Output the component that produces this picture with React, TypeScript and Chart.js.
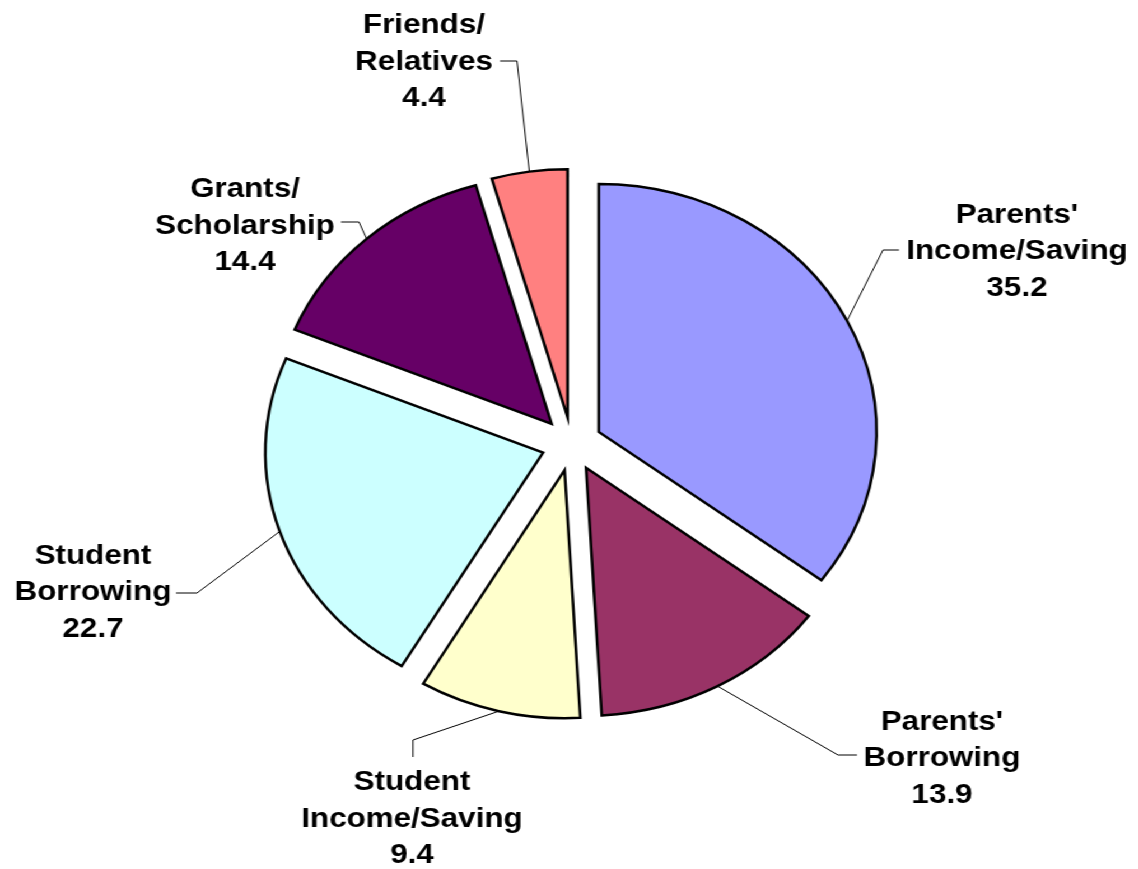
import React, { useEffect, useRef } from "react";
import { Chart, registerables } from "chart.js";

Chart.register(...registerables);

// ---- data ----
const categories: string[][] = [
  ["Parents'", "Income/Saving"],
  ["Parents'", "Borrowing"],
  ["Student", "Income/Saving"],
  ["Student", "Borrowing"],
  ["Grants/", "Scholarship"],
  ["Friends/", "Relatives"],
];
const values: number[] = [35.2, 13.9, 9.4, 22.7, 14.4, 4.4];
const sliceColors: string[] = ["#9999FF", "#993366", "#FFFFCC", "#CCFFFF", "#660066", "#FF8080"];

// ---- layout (page pixels) ----
const SX = 1.12; // horizontal stretch of the original picture
const CANVAS_W = 1016;
const CANVAS_H = 869;
const RADIUS = 248;
const EXPLODE = 27;
const LINE_GAP = 36.5;
const labelAnchors: number[][] = [
  [1017, 259],
  [942, 766],
  [412, 826.5],
  [93, 600],
  [245, 233.5],
  [424, 69.5],
];
const leaderBends: number[][][] = [
  [[883, 250], [899, 250]],
  [[838, 755], [857, 755]],
  [[413, 740], [413, 757]],
  [[197, 593], [176, 593]],
  [[359, 222], [341, 222]],
  [[517, 61], [500, 61]],
];

const explodePlugin = {
  id: "explodeSlices",
  beforeDatasetDraw(chart: any, args: any) {
    const ctx = chart.ctx;
    const meta = chart.getDatasetMeta(args.index);
    meta.data.forEach((arc: any) => {
      const p = arc.getProps(["startAngle", "endAngle"], true);
      const mid = (p.startAngle + p.endAngle) / 2;
      ctx.save();
      ctx.translate(Math.cos(mid) * EXPLODE, Math.sin(mid) * EXPLODE);
      arc.draw(ctx);
      ctx.restore();
    });
    return false;
  },
};

const labelPlugin = {
  id: "sliceLabels",
  afterDatasetsDraw(chart: any) {
    const ctx = chart.ctx;
    const meta = chart.getDatasetMeta(0);
    ctx.save();
    meta.data.forEach((arc: any, i: number) => {
      const p = arc.getProps(["x", "y", "startAngle", "endAngle", "outerRadius"], true);
      const mid = (p.startAngle + p.endAngle) / 2;
      const sx = p.x + Math.cos(mid) * (p.outerRadius + EXPLODE);
      const sy = p.y + Math.sin(mid) * (p.outerRadius + EXPLODE);
      ctx.beginPath();
      ctx.moveTo(sx, sy);
      leaderBends[i].forEach((pt) => ctx.lineTo(pt[0] / SX, pt[1]));
      ctx.strokeStyle = "#000000";
      ctx.lineWidth = 1;
      ctx.stroke();

      const lines = [...categories[i], values[i].toFixed(1)];
      ctx.fillStyle = "#000000";
      ctx.font = 'bold 28px "Liberation Sans", Arial, sans-serif';
      ctx.textAlign = "center";
      ctx.textBaseline = "alphabetic";
      const ax = labelAnchors[i][0] / SX;
      const ay = labelAnchors[i][1];
      lines.forEach((t, k) => {
        ctx.fillText(t, ax, ay + (k - 1) * LINE_GAP);
      });
    });
    ctx.restore();
  },
};

export default function App() {
  const canvasRef = useRef<HTMLCanvasElement | null>(null);

  useEffect(() => {
    document.body.style.margin = "0";
    document.body.style.overflow = "hidden";
    const canvas = canvasRef.current;
    if (!canvas) return;
    const chart = new Chart(canvas, {
      type: "pie",
      data: {
        labels: categories.map((c) => c.join(" ")),
        datasets: [
          {
            data: values,
            backgroundColor: sliceColors,
            borderColor: "#000000",
            borderWidth: 2.5,
            borderJoinStyle: "miter",
            radius: RADIUS,
          } as any,
        ],
      },
      options: {
        responsive: false,
        animation: false,
        devicePixelRatio: 1,
        events: [],
        layout: { padding: { left: 5, top: 19, right: 0, bottom: 0 } },
        plugins: {
          legend: { display: false },
          tooltip: { enabled: false },
        },
      },
      plugins: [explodePlugin, labelPlugin],
    });
    return () => chart.destroy();
  }, []);

  return (
    <div
      style={{
        width: CANVAS_W,
        height: CANVAS_H,
        transform: `scaleX(${SX})`,
        transformOrigin: "0 0",
        background: "#ffffff",
      }}
    >
      <canvas ref={canvasRef} width={CANVAS_W} height={CANVAS_H} style={{ display: "block" }} />
    </div>
  );
}
